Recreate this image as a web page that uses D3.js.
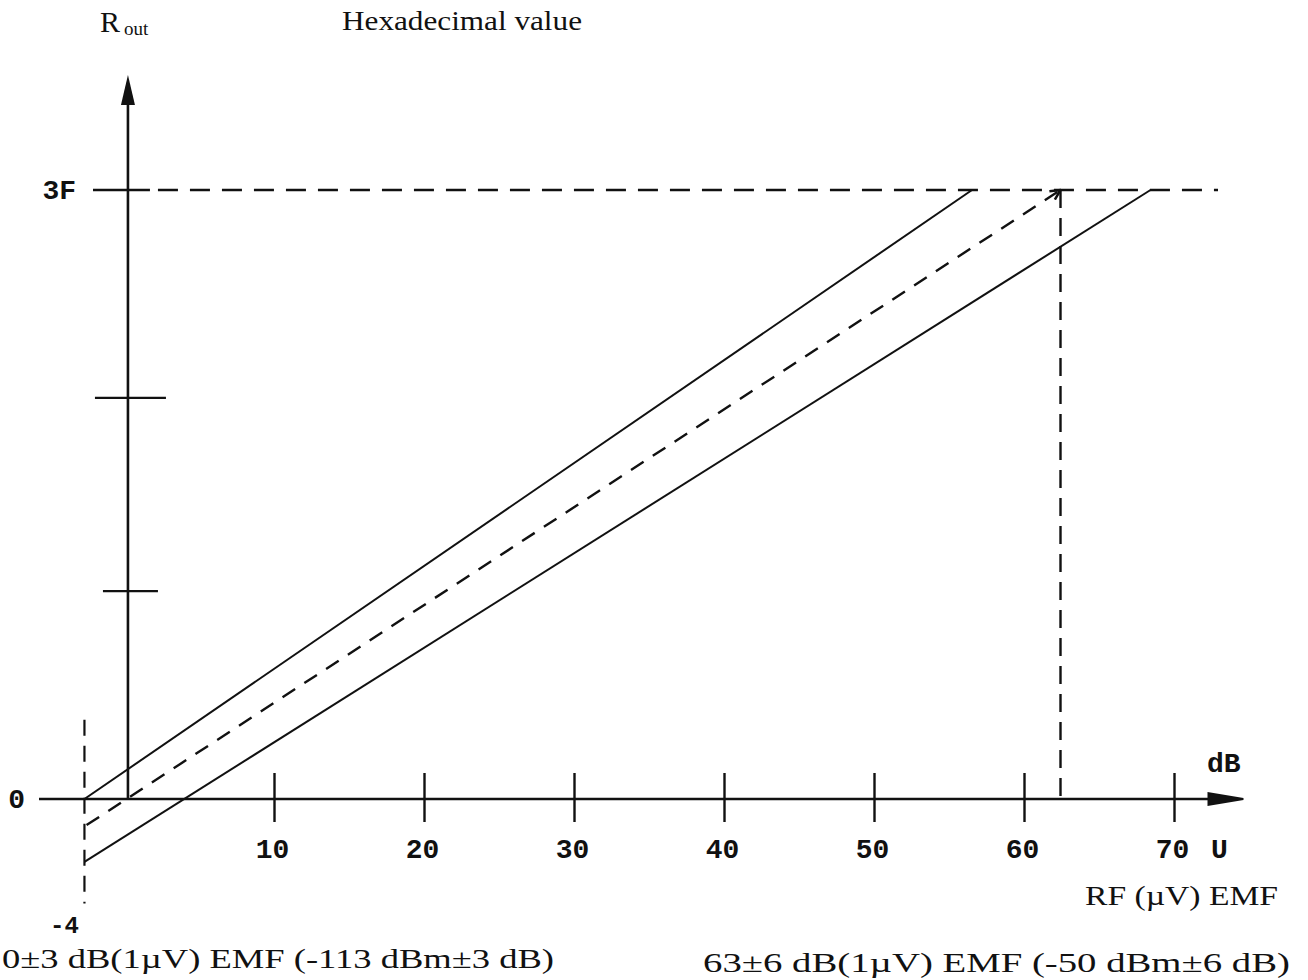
<!DOCTYPE html>
<html>
<head>
<meta charset="utf-8">
<script src="https://cdn.jsdelivr.net/npm/d3@7"></script>
<style>
  html, body { margin: 0; padding: 0; background: #fff; }
  svg { display: block; }
  .serif { font-family: "Liberation Serif", "Times New Roman", serif; fill: #111; }
  .mono { font-family: "Liberation Mono", "Courier New", monospace; fill: #111; }
</style>
</head>
<body>
<script>
// RF level (dB µV EMF) on the horizontal axis, R_out hex code on the vertical axis
const xTicks = [10, 20, 30, 40, 50, 60, 70];
const yMinorTicks = [21.5, 41.5];
const yLabelTicks = [{ v: 0, label: "0" }, { v: 63, label: "3F" }];

// transfer characteristic: tolerance band edges and the nominal curve
const upperBound = [[-2.67, 0], [56.5, 63]];
const nominalLine = [[-2.53, -2.7], [62.4, 63]];
const lowerBound = [[-2.67, -6.5], [68.4, 63]];

// reference markers
const lowLimitX = -2.67;           // 0±3 dB end of the range
const lowLimitSpan = [8.2, -10.8];
const highLimitX = 62.4;           // 63±6 dB end of the range
const fullScale = 63;              // 3F hex
const fullScaleSpan = [-2.1, 72.9];
const yAxisAt = 0.23;

const W = 1308, H = 980;
const svg = d3.select("body").append("svg").attr("width", W).attr("height", H);

const x = d3.scaleLinear().domain([0, 70]).range([124.5, 1174.5]);
const y = d3.scaleLinear().domain([0, 63]).range([799, 190]);

const line = d3.line().x(d => x(d[0])).y(d => y(d[1]));

const defs = svg.append("defs");
defs.append("marker").attr("id", "openArrow")
  .attr("viewBox", "0 0 12 12").attr("refX", 11).attr("refY", 6)
  .attr("markerWidth", 12).attr("markerHeight", 12)
  .attr("markerUnits", "userSpaceOnUse").attr("orient", "auto")
  .append("path").attr("d", "M1,1 L11,6 L1,11")
  .attr("fill", "none").attr("stroke", "#111").attr("stroke-width", 2.5);

const ink = "#111";

// x axis with arrow
svg.append("line")
  .attr("x1", x(-5.7)).attr("x2", x(73.5))
  .attr("y1", y(0)).attr("y2", y(0))
  .attr("stroke", ink).attr("stroke-width", 2.6);
svg.append("path")
  .attr("d", `M${x(72.2)},${y(0) - 7} L${x(74.6)},${y(0) - 1} L${x(74.6)},${y(0) + 1} L${x(72.2)},${y(0) + 7} Z`)
  .attr("fill", ink);

// x ticks + labels
const xt = svg.append("g");
xt.selectAll("line").data(xTicks).join("line")
  .attr("x1", d => x(d)).attr("x2", d => x(d))
  .attr("y1", y(0) - 26).attr("y2", y(0) + 23)
  .attr("stroke", ink).attr("stroke-width", 2.4);
xt.selectAll("text").data(xTicks).join("text")
  .attr("class", "mono")
  .attr("x", d => x(d) - 2).attr("y", 858)
  .attr("text-anchor", "middle")
  .attr("font-size", 28).attr("font-weight", "bold")
  .text(d => d);

// y axis with arrow
svg.append("line")
  .attr("x1", x(yAxisAt)).attr("x2", x(yAxisAt))
  .attr("y1", y(0)).attr("y2", y(72.5))
  .attr("stroke", ink).attr("stroke-width", 2.6);
svg.append("path")
  .attr("d", `M${x(yAxisAt)},${y(74.9)} L${x(yAxisAt) + 7},${y(71.8)} L${x(yAxisAt) - 7},${y(71.8)} Z`)
  .attr("fill", ink);

// y ticks
svg.selectAll(".ytick").data(yMinorTicks).join("line")
  .attr("class", "ytick")
  .attr("x1", (d, i) => x(yAxisAt) - (i ? 33 : 25))
  .attr("x2", (d, i) => x(yAxisAt) + (i ? 38 : 30))
  .attr("y1", d => y(d)).attr("y2", d => y(d))
  .attr("stroke", ink).attr("stroke-width", 2.4);

// full-scale tick, then dashed guide at 3F
svg.append("line")
  .attr("x1", x(fullScaleSpan[0])).attr("x2", x(yAxisAt) + 22)
  .attr("y1", y(fullScale)).attr("y2", y(fullScale))
  .attr("stroke", ink).attr("stroke-width", 2.4);
svg.append("line")
  .attr("x1", x(yAxisAt) + 30).attr("x2", x(fullScaleSpan[1]))
  .attr("y1", y(fullScale)).attr("y2", y(fullScale))
  .attr("stroke", ink).attr("stroke-width", 2.4)
  .attr("stroke-dasharray", "20 12");

// y labels
svg.selectAll(".ylab").data(yLabelTicks).join("text")
  .attr("class", "mono ylab")
  .attr("x", d => d.v ? 76 : 25).attr("y", d => y(d.v) + 9)
  .attr("text-anchor", "end")
  .attr("font-size", 28)
  .attr("font-weight", "bold")
  .text(d => d.label);

// vertical dashed markers
svg.append("line")
  .attr("x1", x(lowLimitX)).attr("x2", x(lowLimitX))
  .attr("y1", y(lowLimitSpan[0])).attr("y2", y(lowLimitSpan[1]))
  .attr("stroke", ink).attr("stroke-width", 2.2)
  .attr("stroke-dasharray", "16 10");
svg.append("line")
  .attr("x1", x(highLimitX)).attr("x2", x(highLimitX))
  .attr("y1", y(fullScale)).attr("y2", y(0))
  .attr("stroke", ink).attr("stroke-width", 2.4)
  .attr("stroke-dasharray", "18 10");

// tolerance band
[upperBound, lowerBound].forEach(d => {
  svg.append("path").attr("d", line(d))
    .attr("fill", "none").attr("stroke", ink).attr("stroke-width", 2);
});

// nominal transfer curve
svg.append("path").attr("d", line(nominalLine))
  .attr("fill", "none").attr("stroke", ink).attr("stroke-width", 2.4)
  .attr("stroke-dasharray", "15 11")
  .attr("marker-end", "url(#openArrow)");

// titles
const rt = svg.append("text").attr("class", "serif").attr("x", 100).attr("y", 32).attr("font-size", 30);
rt.append("tspan").text("R");
rt.append("tspan").attr("font-size", 19).attr("dx", 4).attr("dy", 3).text("out");

svg.append("text").attr("class", "serif")
  .attr("x", 342).attr("y", 30).attr("font-size", 28)
  .attr("textLength", 240).attr("lengthAdjust", "spacingAndGlyphs")
  .text("Hexadecimal value");

// axis unit labels
svg.append("text").attr("class", "mono").attr("x", 1207).attr("y", 772)
  .attr("font-size", 28).attr("font-weight", "bold").text("dB");
svg.append("text").attr("class", "mono").attr("x", 1211).attr("y", 858)
  .attr("font-size", 28).attr("font-weight", "bold").text("U");
svg.append("text").attr("class", "serif").attr("x", 1085).attr("y", 905)
  .attr("font-size", 28).attr("textLength", 193).attr("lengthAdjust", "spacingAndGlyphs")
  .text("RF (µV) EMF");

// range end annotations
svg.append("text").attr("class", "mono").attr("x", 50).attr("y", 933)
  .attr("font-size", 24).attr("font-weight", "bold").text("-4");
svg.append("text").attr("class", "serif").attr("x", 2).attr("y", 968)
  .attr("font-size", 27).attr("textLength", 552).attr("lengthAdjust", "spacingAndGlyphs")
  .text("0±3 dB(1µV) EMF (-113 dBm±3 dB)");
svg.append("text").attr("class", "serif").attr("x", 703).attr("y", 972)
  .attr("font-size", 27).attr("textLength", 587).attr("lengthAdjust", "spacingAndGlyphs")
  .text("63±6 dB(1µV) EMF (-50 dBm±6 dB)");
</script>
</body>
</html>
